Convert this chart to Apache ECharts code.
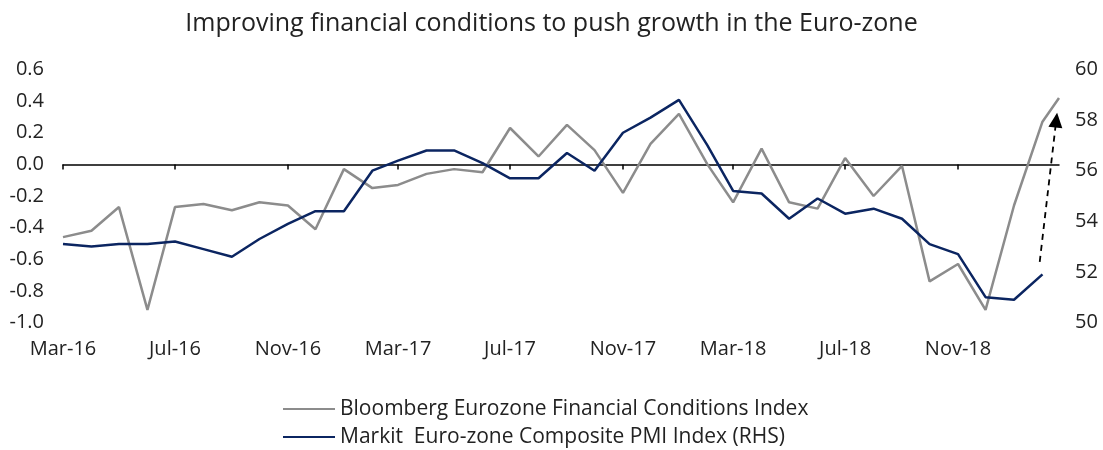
<!DOCTYPE html>
<html>
<head>
<meta charset="utf-8">
<title>Euro-zone financial conditions</title>
<script src="https://cdn.jsdelivr.net/npm/echarts@6/dist/echarts.min.js"></script>
<style>
  html, body { margin: 0; padding: 0; background: #fff; }
  #chart { width: 1103px; height: 450px; }
</style>
</head>
<body>
<div id="chart"></div>
<script>
// monthly observations, Mar-16 .. Feb-19
const months = [
  '2016-03', '2016-04', '2016-05', '2016-06', '2016-07', '2016-08', '2016-09', '2016-10', '2016-11', '2016-12',
  '2017-01', '2017-02', '2017-03', '2017-04', '2017-05', '2017-06', '2017-07', '2017-08', '2017-09', '2017-10',
  '2017-11', '2017-12', '2018-01', '2018-02', '2018-03', '2018-04', '2018-05', '2018-06', '2018-07', '2018-08',
  '2018-09', '2018-10', '2018-11', '2018-12', '2019-01', '2019-02'
]

// Bloomberg Eurozone Financial Conditions Index (LHS)
const fciValues = [
  -0.46, -0.42, -0.27, -0.92, -0.27, -0.25, -0.29, -0.24, -0.26, -0.41,
  -0.03, -0.15, -0.13, -0.06, -0.03, -0.05, 0.23, 0.05, 0.25, 0.09,
  -0.18, 0.13, 0.32, 0.00, -0.24, 0.10, -0.24, -0.28, 0.04, -0.20,
  -0.01, -0.74, -0.63, -0.92, -0.26, 0.27
]
// latest daily reading of the FCI
const fciLatestDate = '2019-02-19'
const fciLatestValue = 0.42

// Markit Euro-zone Composite PMI (RHS)
const pmiValues = [
  53.1, 53.0, 53.1, 53.1, 53.2, 52.9, 52.6, 53.3, 53.9, 54.4,
  54.4, 56.0, 56.4, 56.8, 56.8, 56.3, 55.7, 55.7, 56.7, 56.0,
  57.5, 58.1, 58.8, 57.0, 55.2, 55.1, 54.1, 54.9, 54.3, 54.5,
  54.1, 53.1, 52.7, 51.0, 50.9, 51.9
]

// arrow annotation: from end of PMI towards where the FCI points
const arrowFrom = ['2019-01-29', 52.4]
const arrowTo = ['2019-02-16', 58.0]

const xTickLabels = ['Mar-16', 'Jul-16', 'Nov-16', 'Mar-17', 'Jul-17', 'Nov-17', 'Mar-18', 'Jul-18', 'Nov-18']

const monthNames = ['Jan', 'Feb', 'Mar', 'Apr', 'May', 'Jun', 'Jul', 'Aug', 'Sep', 'Oct', 'Nov', 'Dec']

const toTime = (s) => {
  const p = s.split('-').map(Number)
  return Date.UTC(p[0], p[1] - 1, p[2] || 1)
}
const labelToTime = (lbl) => {
  const [m, yy] = lbl.split('-')
  return Date.UTC(2000 + Number(yy), monthNames.indexOf(m), 1)
}

const tickTimes = xTickLabels.map(labelToTime)
const tickLabelMap = {}
xTickLabels.forEach((l, i) => { tickLabelMap[tickTimes[i]] = l })

const fciData = months.map((m, i) => [toTime(m), fciValues[i]])
fciData.push([toTime(fciLatestDate), fciLatestValue])
const pmiData = months.map((m, i) => [toTime(m), pmiValues[i]])

const xMin = toTime(months[0])
const xMax = toTime(fciLatestDate)

const FONT = '"Open Sans", Lato, sans-serif'
const TEXT = '#222'

const chart = echarts.init(document.getElementById('chart'), null, { renderer: 'canvas' })

const option = {
  animation: false,
  backgroundColor: '#fff',
  textStyle: { fontFamily: FONT },
  title: {
    text: 'Improving financial conditions to push growth in the Euro-zone',
    left: 'center',
    top: 6,
    textStyle: { fontFamily: FONT, fontSize: 25, fontWeight: 'normal', color: TEXT },
  },
  legend: {
    orient: 'vertical',
    left: 283,
    top: 398,
    padding: 0,
    icon: 'rect',
    itemWidth: 52,
    itemHeight: 2,
    itemGap: 6,
    textStyle: { fontFamily: FONT, fontSize: 21, color: TEXT, lineHeight: 22 },
    data: ['Bloomberg Eurozone Financial Conditions Index', 'Markit  Euro-zone Composite PMI Index (RHS)'],
  },
  grid: {
    left: 63,
    right: 44,
    top: 69.5,
    bottom: 127.5,
    containLabel: false,
    outerBoundsMode: 'none',
  },
  xAxis: [
    {
      // labels only, along the bottom
      type: 'value',
      min: xMin,
      max: xMax,
      position: 'bottom',
      axisLine: { show: false, onZero: false },
      axisTick: { show: false },
      splitLine: { show: false },
      axisLabel: {
        customValues: tickTimes,
        margin: 17,
        fontFamily: FONT,
        fontSize: 20,
        color: TEXT,
        formatter: (v) => tickLabelMap[v] || '',
      },
    },
    {
      // zero line with ticks
      type: 'value',
      min: xMin,
      max: xMax,
      position: 'bottom',
      axisLine: { show: true, onZero: true, onZeroAxisIndex: 0, lineStyle: { color: '#000', width: 1.5 } },
      axisTick: { show: true, customValues: tickTimes, length: 5, lineStyle: { color: '#000', width: 1.5 } },
      axisLabel: { show: false },
      splitLine: { show: false },
    },
  ],
  yAxis: [
    {
      type: 'value',
      position: 'left',
      min: -1.0,
      max: 0.6,
      interval: 0.2,
      axisLine: { show: false },
      axisTick: { show: false },
      splitLine: { show: false },
      axisLabel: {
        margin: 19,
        fontFamily: FONT,
        fontSize: 20,
        color: TEXT,
        formatter: (v) => (Math.abs(v) < 1e-9 ? '0.0' : v.toFixed(1)),
      },
    },
    {
      type: 'value',
      position: 'right',
      min: 50,
      max: 60,
      interval: 2,
      axisLine: { show: false },
      axisTick: { show: false },
      splitLine: { show: false },
      axisLabel: { margin: 16, fontFamily: FONT, fontSize: 20, color: TEXT },
    },
  ],
  series: [
    {
      name: 'Bloomberg Eurozone Financial Conditions Index',
      type: 'line',
      xAxisIndex: 0,
      yAxisIndex: 0,
      symbol: 'none',
      lineStyle: { color: '#8c8c8c', width: 2.5 },
      itemStyle: { color: '#8c8c8c' },
      data: fciData,
      z: 3,
    },
    {
      name: 'Markit  Euro-zone Composite PMI Index (RHS)',
      type: 'line',
      xAxisIndex: 0,
      yAxisIndex: 1,
      symbol: 'none',
      lineStyle: { color: '#0b2561', width: 2.5 },
      itemStyle: { color: '#0b2561' },
      data: pmiData,
      z: 4,
      markLine: {
        silent: true,
        symbol: ['none', 'triangle'],
        symbolSize: [14, 15],
        label: { show: false },
        lineStyle: { color: '#000', width: 1.8, type: [6, 5] },
        data: [[
          { coord: [toTime(arrowFrom[0]), arrowFrom[1]] },
          { coord: [toTime(arrowTo[0]), arrowTo[1]] },
        ]],
      },
    },
  ],
}

chart.setOption(option)
window.addEventListener('resize', () => chart.resize())
</script>
</body>
</html>
